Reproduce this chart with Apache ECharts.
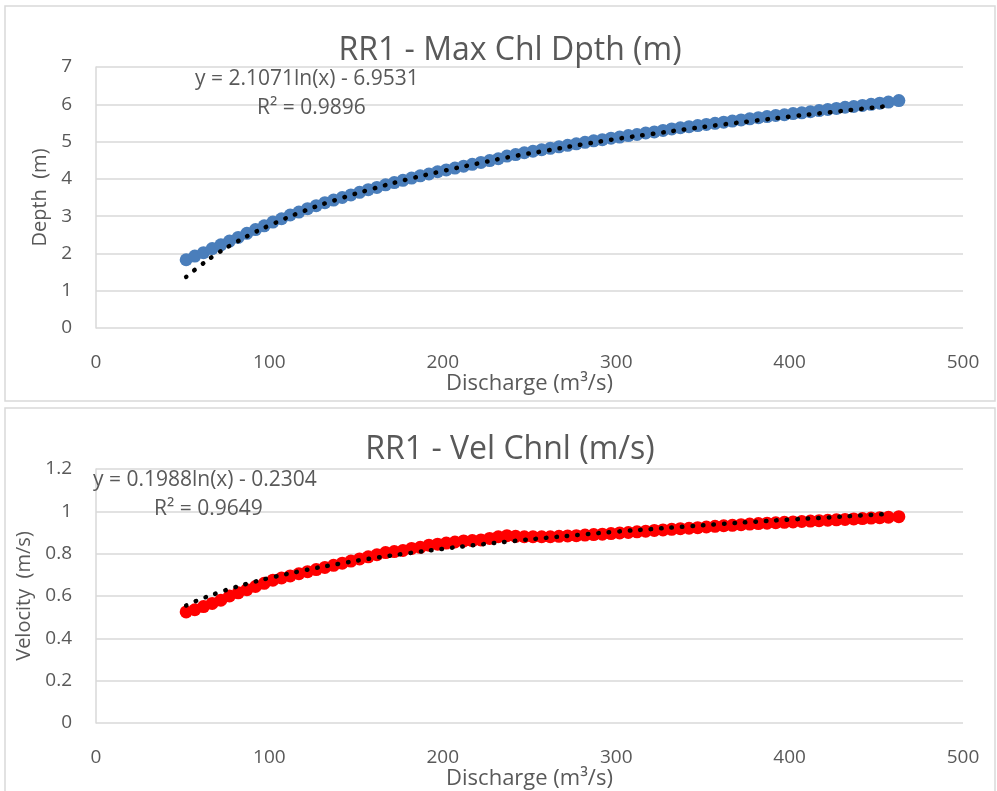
<!DOCTYPE html>
<html>
<head>
    <meta http-equiv="content-type" content="text/html;charset=utf-8" />
    <title>RR1 rating curves</title>
    <script src="https://cdn.jsdelivr.net/npm/echarts@6/dist/echarts.min.js"></script>
    <style type="text/css">
        * { margin: 0; padding: 0 }
        html, body { background: #fff; }
        #chart { width: 997px; height: 791px; }
    </style>
</head>
<body>
<div id="chart"></div>
<script>
    // discharge values (m3/s), shared by both plots
    var discharge = [52, 57, 62, 67, 72, 77, 82, 87, 92, 97, 102, 107, 112, 117, 122, 127, 132, 137, 142, 147,
        152, 157, 162, 167, 172, 177, 182, 187, 192, 197, 202, 207, 212, 217, 222, 227, 232, 237, 242, 247,
        252, 257, 262, 267, 272, 277, 282, 287, 292, 297, 302, 307, 312, 317, 322, 327, 332, 337, 342, 347,
        352, 357, 362, 367, 372, 377, 382, 387, 392, 397, 402, 407, 412, 417, 422, 427, 432, 437, 442, 447,
        452, 457, 463];
    // max channel depth (m)
    var depth = [1.83, 1.93, 2.02, 2.13, 2.23, 2.33, 2.43, 2.54, 2.64, 2.74, 2.84, 2.93, 3.03, 3.11, 3.20, 3.28, 3.36, 3.43, 3.50, 3.57,
        3.64, 3.71, 3.77, 3.84, 3.90, 3.96, 4.02, 4.08, 4.13, 4.19, 4.24, 4.29, 4.34, 4.39, 4.44, 4.49, 4.54, 4.61, 4.65, 4.70,
        4.74, 4.78, 4.82, 4.86, 4.90, 4.94, 4.98, 5.02, 5.05, 5.09, 5.12, 5.16, 5.19, 5.23, 5.26, 5.30, 5.34, 5.37, 5.40, 5.43,
        5.46, 5.49, 5.52, 5.55, 5.58, 5.61, 5.64, 5.67, 5.70, 5.72, 5.75, 5.77, 5.80, 5.83, 5.86, 5.89, 5.92, 5.94, 5.97, 6.00,
        6.03, 6.06, 6.10];
    // channel velocity (m/s)
    var velocity = [0.525, 0.535, 0.55, 0.565, 0.58, 0.60, 0.615, 0.63, 0.645, 0.66, 0.675, 0.685, 0.695, 0.705, 0.715, 0.725, 0.735, 0.745, 0.755, 0.765,
        0.775, 0.785, 0.795, 0.805, 0.81, 0.815, 0.825, 0.83, 0.84, 0.845, 0.85, 0.855, 0.86, 0.862, 0.865, 0.872, 0.88, 0.885, 0.882, 0.88,
        0.88, 0.88, 0.88, 0.882, 0.884, 0.885, 0.888, 0.89, 0.892, 0.895, 0.898, 0.90, 0.903, 0.906, 0.91, 0.912, 0.915, 0.918, 0.92, 0.923,
        0.926, 0.929, 0.932, 0.934, 0.937, 0.94, 0.942, 0.944, 0.946, 0.948, 0.95, 0.952, 0.954, 0.956, 0.958, 0.96, 0.962, 0.964, 0.966, 0.968,
        0.97, 0.972, 0.975];

    // dotted trendlines
    var trendX = [52, 60, 70, 80, 90, 100, 120, 140, 160, 180, 200, 220, 240, 260, 280, 300, 320, 340, 360, 380, 400, 420, 440, 458];
    var depthTrend = [1.37, 1.67, 2.00, 2.28, 2.53, 2.75, 3.14, 3.46, 3.74, 3.99, 4.21, 4.41, 4.60, 4.76, 4.92, 5.07, 5.20, 5.33, 5.45, 5.56, 5.67, 5.77, 5.87, 5.96];
    var velTrend = [0.555, 0.584, 0.614, 0.641, 0.664, 0.685, 0.721, 0.752, 0.779, 0.802, 0.823, 0.842, 0.859, 0.875, 0.890, 0.904, 0.916, 0.928, 0.940, 0.951, 0.961, 0.970, 0.980, 0.988];

    var xTicks = [0, 100, 200, 300, 400, 500];
    var depthTicks = [0, 1, 2, 3, 4, 5, 6, 7];
    var velTicks = [0, 0.2, 0.4, 0.6, 0.8, 1, 1.2];

    function pairs(xs, ys) {
        var out = [];
        for (var i = 0; i < xs.length; i++) {
            out.push([xs[i], ys[i]]);
        }
        return out;
    }

    var font = 'Open Sans';
    var grey = '#595959';
    var gridGrey = '#d9d9d9';

    function xAx(idx) {
        return {
            gridIndex: idx, type: 'value',
            min: xTicks[0], max: xTicks[xTicks.length - 1], interval: 100,
            name: 'Discharge (m³/s)', nameLocation: 'middle', nameGap: 45,
            nameTextStyle: { color: grey, fontSize: 22, fontFamily: font },
            axisLine: { show: false },
            axisTick: { show: false },
            splitLine: { show: false },
            axisLabel: { color: grey, fontSize: 19, fontFamily: font, margin: 25 }
        };
    }

    function yAx(idx, ticks, step, name, gap) {
        return {
            gridIndex: idx, type: 'value',
            min: ticks[0], max: ticks[ticks.length - 1], interval: step,
            name: name, nameLocation: 'middle', nameGap: gap,
            nameTextStyle: { color: grey, fontSize: 20, fontFamily: font },
            axisLine: { show: true, lineStyle: { color: gridGrey, width: 1.5 } },
            axisTick: { show: false },
            splitLine: { show: true, lineStyle: { color: gridGrey, width: 1.5 } },
            axisLabel: {
                color: grey, fontSize: 19, fontFamily: font, margin: 24,
                formatter: function (v) { return parseFloat(v.toFixed(2)) + ''; }
            }
        };
    }

    var dotLine = { color: '#000', width: 4.5, type: [0.5, 10], cap: 'round' };

    var chart = echarts.init(document.getElementById('chart'));
    chart.setOption({
        animation: false,
        title: [
            { text: 'RR1 - Max Chl Dpth (m)', left: 505, top: 30, textAlign: 'center',
                textStyle: { color: grey, fontSize: 32, fontWeight: 'normal', fontFamily: font } },
            { text: 'RR1 - Vel Chnl (m/s)', left: 505, top: 429, textAlign: 'center',
                textStyle: { color: grey, fontSize: 32, fontWeight: 'normal', fontFamily: font } }
        ],
        grid: [
            { left: 96, right: 34, top: 67, height: 261 },
            { left: 96, right: 34, top: 469, height: 256 }
        ],
        xAxis: [xAx(0), xAx(1)],
        yAxis: [
            yAx(0, depthTicks, 1, 'Depth  (m)', 44),
            yAx(1, velTicks, 0.2, 'Velocity  (m/s)', 56)
        ],
        graphic: [
            { type: 'rect', shape: { x: 5, y: 6, width: 990, height: 395 },
                style: { fill: null, stroke: gridGrey, lineWidth: 1.5 }, z: -1 },
            { type: 'rect', shape: { x: 5, y: 408, width: 990, height: 400 },
                style: { fill: null, stroke: gridGrey, lineWidth: 1.5 }, z: -1 },
            { type: 'text', left: 195, top: 69, z: 10,
                style: { text: 'y = 2.1071ln(x) - 6.9531', fill: grey, fontSize: 21, fontFamily: font } },
            { type: 'text', left: 257, top: 98, z: 10,
                style: { text: 'R² = 0.9896', fill: grey, fontSize: 21, fontFamily: font } },
            { type: 'text', left: 93, top: 470, z: 10,
                style: { text: 'y = 0.1988ln(x) - 0.2304', fill: grey, fontSize: 21, fontFamily: font } },
            { type: 'text', left: 154, top: 499, z: 10,
                style: { text: 'R² = 0.9649', fill: grey, fontSize: 21, fontFamily: font } }
        ],
        series: [
            {
                name: 'Depth', type: 'scatter', xAxisIndex: 0, yAxisIndex: 0,
                symbol: 'circle', symbolSize: 13,
                itemStyle: { color: '#4a7ebb', opacity: 1 },
                data: pairs(discharge, depth), z: 2
            },
            {
                name: 'Depth trend', type: 'line', xAxisIndex: 0, yAxisIndex: 0,
                smooth: true, showSymbol: false, symbol: 'none',
                lineStyle: dotLine,
                data: pairs(trendX, depthTrend), z: 3
            },
            {
                name: 'Velocity', type: 'scatter', xAxisIndex: 1, yAxisIndex: 1,
                symbol: 'circle', symbolSize: 13,
                itemStyle: { color: '#ff0000', opacity: 1 },
                data: pairs(discharge, velocity), z: 2
            },
            {
                name: 'Velocity trend', type: 'line', xAxisIndex: 1, yAxisIndex: 1,
                smooth: true, showSymbol: false, symbol: 'none',
                lineStyle: dotLine,
                data: pairs(trendX, velTrend), z: 3
            }
        ]
    });
</script>
</body>
</html>
